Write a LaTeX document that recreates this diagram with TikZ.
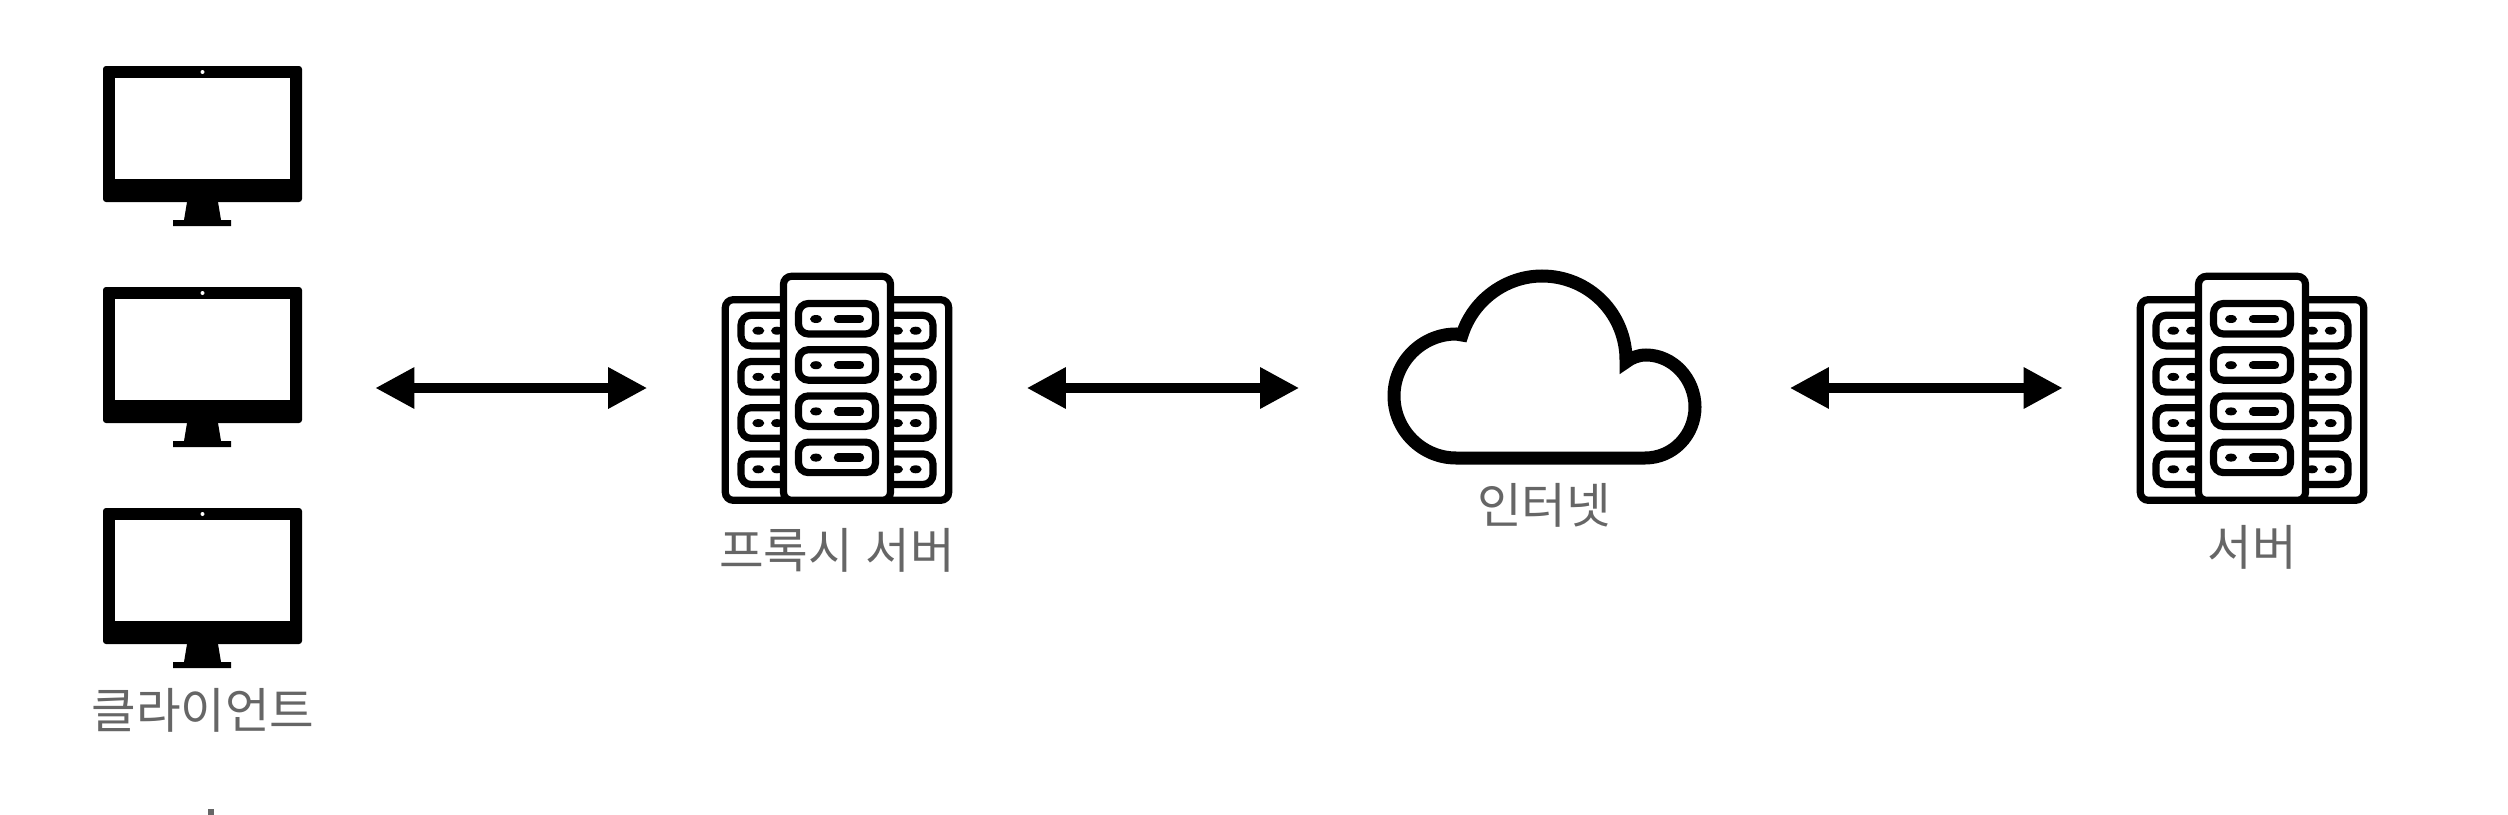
\documentclass[tikz,border=0pt]{standalone}
\usepackage{fontspec}
\newfontfamily\krfont{Noto Sans CJK KR}
\usetikzlibrary{arrows.meta}
\definecolor{labelgray}{HTML}{666666}
\tikzset{
	iconbox/.style={inner sep=0pt, minimum height=0pt, minimum width=#1},
	iconlabel/.style={inner sep=0pt, text=labelgray, font=\krfont\fontsize{13.8}{16}\selectfont},
	link/.style={line width=0.092cm, {Triangle[length=11.1pt,width=11.1pt]}-{Triangle[length=11.1pt,width=11.1pt]}},
	stroke/.style={line width=0.072cm},
}
\begin{document}
\begin{tikzpicture}[x=0.01cm, y=-0.01cm]

\useasboundingbox (0,0) rectangle (2508,815);

\foreach \y in {0,221,442} {
	\fill[rounded corners=0.03cm] (103,66+\y) rectangle (302,202+\y);
	\fill[white] (115,78+\y) rectangle (290,179+\y);
	\fill[white] (202.5,72+\y) circle (2);
	\fill (187,202+\y) -- (218,202+\y) -- (221,220+\y) -- (231,220+\y) -- (231,226+\y) -- (173,226+\y) -- (173,220+\y) -- (184,220+\y) -- cycle;
}

\foreach \dx in {837,2252} {
	\draw[stroke, rounded corners=0.08cm] (\dx-111.7,299.7) rectangle (\dx+111.7,500.3);
	\foreach \y in {0,46.2,92.4,138.6} {
		\draw[stroke, rounded corners=0.1cm] (\dx-50,315.3+\y) -- (\dx-96,315.3+\y) -- (\dx-96,345.9+\y) -- (\dx-50,345.9+\y);
		\draw[stroke, rounded corners=0.1cm] (\dx+50,315.3+\y) -- (\dx+96,315.3+\y) -- (\dx+96,345.9+\y) -- (\dx+50,345.9+\y);
		\fill (\dx-78.7,330.7+\y) ellipse (6 and 4);
		\fill (\dx-60,330.7+\y) ellipse (6 and 4);
		\fill (\dx+78.7,330.7+\y) ellipse (6 and 4);
		\fill (\dx+60,330.7+\y) ellipse (6 and 4);
	}
	\draw[stroke, fill=white, rounded corners=0.08cm] (\dx-53.5,276.3) rectangle (\dx+53.5,500.3);
	\foreach \y in {0,46.2,92.4,138.6} {
		\draw[stroke, rounded corners=0.1cm] (\dx-38.5,303.5+\y) rectangle (\dx+38.5,334+\y);
		\fill (\dx-21,319+\y) ellipse (6 and 4);
		\draw[line width=0.083cm, line cap=round] (\dx+1,319+\y) -- (\dx+23,319+\y);
	}
}

\draw[line width=0.13cm, fill=white] (1462,335) .. controls (1473,300) and (1506,276) .. (1542,276)
	.. controls (1589,276) and (1627,314) .. (1626,362)
	.. controls (1631,358) and (1638,355) .. (1646,355)
	.. controls (1673,355) and (1695,379) .. (1695,407)
	.. controls (1695,435) and (1673,458) .. (1645,458)
	-- (1456,458)
	.. controls (1422,458) and (1394,430) .. (1394,396)
	.. controls (1394,362) and (1422,334) .. (1456,334)
	-- cycle;

\node[iconbox=3.44cm] (client) at (202.5,388) {};
\node[iconbox=3.78cm] (proxy) at (837,388) {};
\node[iconbox=4.89cm] (cloud) at (1544.5,388) {};
\node[iconbox=3.79cm] (server) at (2253,388) {};

\draw[link] (client) -- (proxy);
\draw[link] (proxy) -- (cloud);
\draw[link] (cloud) -- (server);

\node[iconlabel] (clientlabel) at (203,710) {클라이언트};
\node[iconlabel] (proxylabel) at (837,550) {프록시\hspace{0.03em} 서버};
\node[iconlabel] (cloudlabel) at (1544,505) {인터넷};
\node[iconlabel] (serverlabel) at (2252,547) {서버};

\fill[labelgray] (208,809) rectangle (214,815);

\end{tikzpicture}
\end{document}
